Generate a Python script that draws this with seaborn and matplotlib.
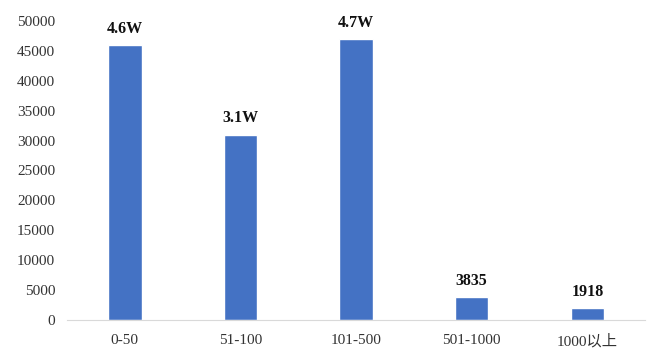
import matplotlib.pyplot as plt
import seaborn as sns
import pandas as pd

categories = ['0-50', '51-100', '101-500', '501-1000', '1000以上']
counts = [46000, 31000, 47000, 3835, 1918]
bar_labels = ['4.6W', '3.1W', '4.7W', '3835', '1918']

df = pd.DataFrame({'range': categories, 'count': counts})

sns.set_style('white')
plt.rcParams['font.family'] = ['Liberation Serif', 'Noto Sans CJK SC']

fig = plt.figure(figsize=(6.6, 3.57), dpi=100)
ax = fig.add_axes([0.1015, 0.104, 0.876, 0.837])
sns.barplot(data=df, x='range', y='count', color='#4472C4', width=0.29,
            saturation=1, ax=ax)

for i, (v, lab) in enumerate(zip(counts, bar_labels)):
    ax.annotate(lab, (i, v), xytext=(0, 6), textcoords='offset points',
                ha='center', va='bottom', fontsize=11.5, fontweight='bold',
                color='#111111')

ax.set_ylim(0, 50000)
ax.set_yticks(range(0, 50001, 5000))
ax.set_xlim(-0.5, 4.5)
ax.set_xlabel('')
ax.set_ylabel('')
ax.tick_params(axis='both', length=0, labelsize=11, colors='#333333')
ax.tick_params(axis='y', pad=8.5)
ax.tick_params(axis='x', pad=10)
for s in ['top', 'right', 'left']:
    ax.spines[s].set_visible(False)
ax.spines['bottom'].set_color('#d9d9d9')

plt.savefig('out.png', dpi=100)
